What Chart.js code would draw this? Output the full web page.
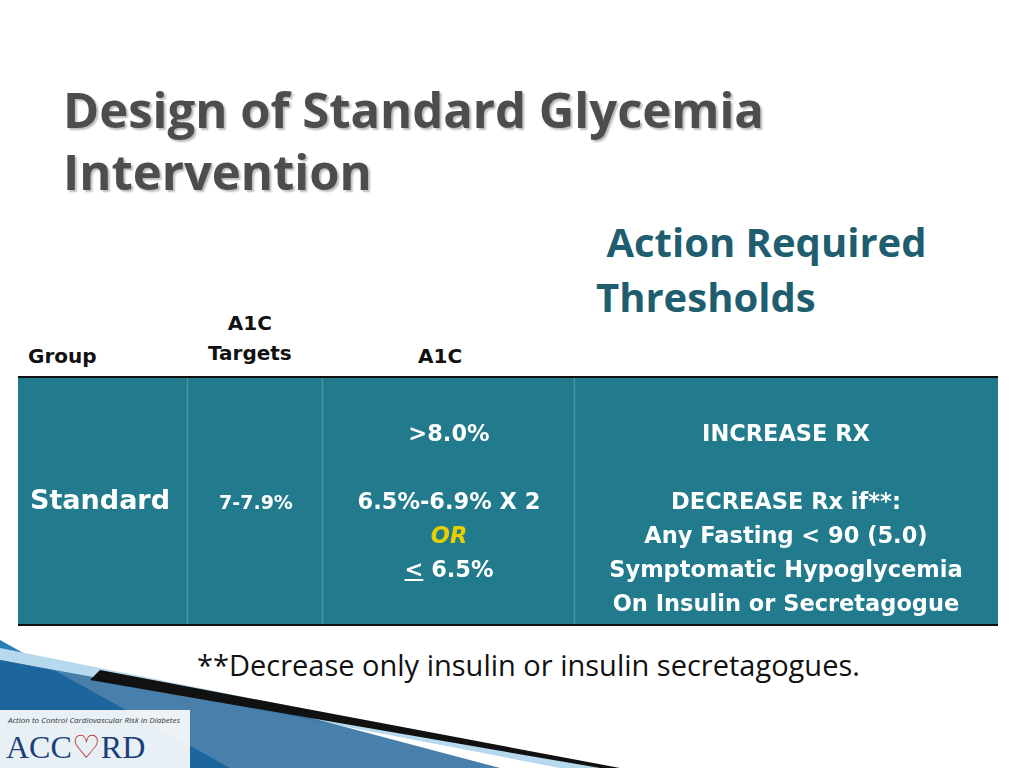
<!DOCTYPE html>
<html><head><meta charset="utf-8">
<script src="https://cdn.jsdelivr.net/npm/chart.js@4"></script>
<style>
body{margin:0;width:1024px;height:768px;background:#fff;position:relative;overflow:hidden;font-family:"Open Sans",sans-serif}
.t{position:absolute;white-space:nowrap}
.title{left:63px;top:78px;font-size:49px;font-weight:bold;color:#4d4d4d;line-height:62px;text-shadow:2px 2px 2px #bbb}
.act{left:596px;top:214px;font-size:40px;font-weight:bold;color:#1e5e6e;line-height:55px}
.hd{font-family:"DejaVu Sans";font-size:20px;font-weight:bold;color:#111;text-align:center;line-height:30px}
.c{font-family:"DejaVu Sans";font-size:22.5px;font-weight:bold;color:#fff;text-align:center;line-height:34px;transform:translateX(-50%)}
#wrap{position:absolute;left:18px;top:376px;width:980px;height:250px}
</style></head><body>
<div class="t title">Design of Standard Glycemia<br>Intervention</div>
<div class="t act">&nbsp;Action Required<br>Thresholds</div>
<div class="t hd" style="left:28px;top:341px">Group</div>
<div class="t hd" style="left:208px;top:308px">A1C<br>Targets</div>
<div class="t hd" style="left:418px;top:341px">A1C</div>
<div id="wrap"><canvas id="c"></canvas></div>
<div class="t c" style="left:100px;top:483px;font-size:27px">Standard</div>
<div class="t c" style="left:256px;top:485px;font-size:19px">7-7.9%</div>
<div class="t c" style="left:449px;top:416px">&gt;8.0%<br><br>6.5%-6.9% X 2<br><span style="color:#e8d000;font-style:italic">OR</span><br><u>&lt;</u> 6.5%</div>
<div class="t c" style="left:786px;top:416px">INCREASE RX<br><br>DECREASE Rx if**:<br>Any Fasting &lt; 90 (5.0)<br>Symptomatic Hypoglycemia<br>On Insulin or Secretagogue</div>
<div class="t" style="left:197px;top:645px;font-size:29px;color:#111">**Decrease only insulin or insulin secretagogues.</div>
<svg style="position:absolute;left:0;top:640px" width="640" height="128">
<polygon points="0,0 230,128 0,128" fill="#2b7fb8"/>
<polygon points="0,8 600,128 560,128 0,20" fill="#b7d9ee"/>
<polygon points="0,20 300,75 500,128 0,128" fill="#1a5f96" opacity="0.8"/>
<polygon points="100,30 620,128 600,128 90,40" fill="#111"/>
<rect x="0" y="70" width="190" height="58" fill="#fff" opacity="0.9"/>
<text x="8" y="83" font-size="8" font-style="italic" fill="#333">Action to Control Cardiovascular Risk in Diabetes</text>
<text x="6" y="118" font-size="32" font-family="Liberation Serif" fill="#1a3f7a">ACC<tspan fill="#b22">♡</tspan>RD</text>
</svg>
<script>
const columns=["Group","A1C Targets","A1C","Action Required Thresholds"];
const rowLabels=["Standard"];
const colWidths=[170,135,252,423];
const palette=["#227b8c","#227b8c","#227b8c","#227b8c"];
new Chart(document.getElementById('c'),{type:'bar',
data:{labels:rowLabels,datasets:columns.map((n,i)=>({label:n,data:[colWidths[i]],backgroundColor:palette[i],borderColor:'#4d95a3',borderWidth:{right:i<3?1.5:0},borderSkipped:false,barPercentage:1,categoryPercentage:1}))},
options:{indexAxis:'y',responsive:true,maintainAspectRatio:false,animation:false,layout:{padding:{top:2,bottom:2}},
plugins:{legend:{display:false},tooltip:{enabled:false}},
scales:{x:{stacked:true,display:false,min:0,max:980},y:{stacked:true,display:false}}},
plugins:[{id:'rules',afterDraw(ch){const x=ch.ctx;x.save();x.fillStyle='#111';x.fillRect(0,0,ch.width,2);x.fillRect(0,ch.height-2,ch.width,2);x.restore();}}]
});
</script>
</body></html>
